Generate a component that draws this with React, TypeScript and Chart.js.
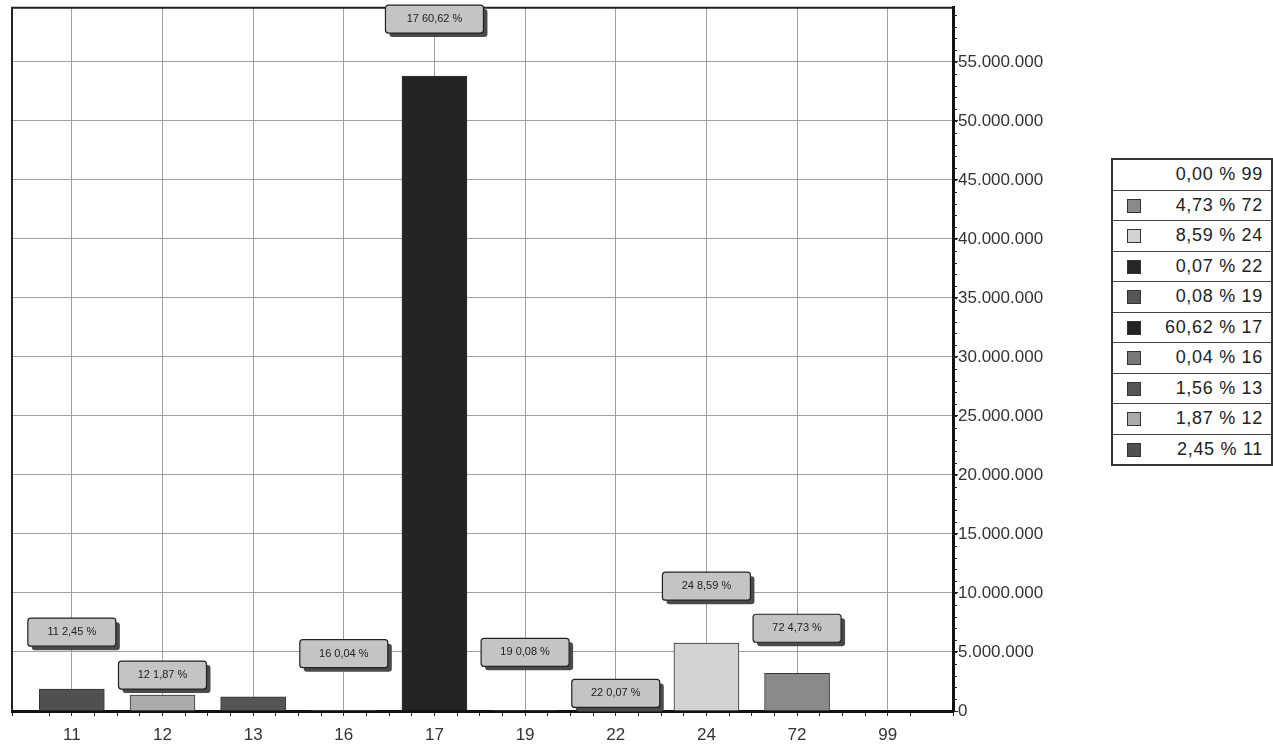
import { Chart, registerables, type Plugin } from "chart.js";
import * as React from "react";

Chart.register(...registerables);

const categories = ["11", "12", "13", "16", "17", "19", "22", "24", "72", "99"];
const values = [1850000, 1350000, 1200000, 30000, 53800000, 60000, 50000, 5750000, 3200000, 0];
const percents = ["2,45", "1,87", "1,56", "0,04", "60,62", "0,08", "0,07", "8,59", "4,73", "0,00"];
const barColors = ["#505050", "#ababab", "#555555", "#777777", "#232323", "#555555", "#262626", "#d3d3d3", "#8a8a8a", "#ffffff"];
const yTickValues = [0, 5000000, 10000000, 15000000, 20000000, 25000000, 30000000, 35000000, 40000000, 45000000, 50000000, 55000000];
const yMinorStep = 1000000;
const yMax = 59600000;

// Abstand Etikett über Balkenoberkante, null = kein Etikett
const labelLift: (number | null)[] = [57, 20, null, 57, 57, 58, 17, 57, 45, null];

function formatDots(v: number) {
  return String(Math.round(v)).replace(/\B(?=(\d{3})+(?!\d))/g, ".");
}

function isWhole(v: number | undefined) {
  if (v == null) return false;
  return Math.abs(v - Math.round(v)) < 1e-6;
}

const frameAndLabels: Plugin = {
  id: "frameAndLabels",
  beforeDatasetsDraw(chart) {
    const { ctx, chartArea } = chart;
    ctx.save();
    ctx.strokeStyle = "#222";
    ctx.lineWidth = 2;
    ctx.beginPath();
    ctx.moveTo(chartArea.left, chartArea.bottom);
    ctx.lineTo(chartArea.left, chartArea.top);
    ctx.lineTo(chartArea.right, chartArea.top);
    ctx.stroke();
    // kleine Zwischenstriche an der rechten Achse
    const y = chart.scales.y;
    ctx.lineWidth = 1;
    ctx.beginPath();
    for (let v = 0; v <= yMax; v += yMinorStep) {
      const py = Math.round(y.getPixelForValue(v)) + 0.5;
      ctx.moveTo(chartArea.right, py);
      ctx.lineTo(chartArea.right + 4, py);
    }
    ctx.stroke();
    ctx.restore();
  },
  afterDatasetsDraw(chart) {
    const { ctx } = chart;
    const meta = chart.getDatasetMeta(0);
    ctx.save();
    ctx.font = "11px 'Liberation Sans', Arial, sans-serif";
    ctx.textAlign = "center";
    ctx.textBaseline = "middle";
    meta.data.forEach((el, i) => {
      const lift = labelLift[i];
      if (lift == null) return;
      const { x, y } = el.getProps(["x", "y"], true) as { x: number; y: number };
      const w = i === 4 ? 98 : 88;
      const h = 28;
      const cy = y - lift;
      const left = x - w / 2;
      const top = cy - h / 2;
      ctx.fillStyle = "#4a4a4a";
      ctx.beginPath();
      ctx.roundRect(left + 4, top + 4, w, h, 3);
      ctx.fill();
      ctx.fillStyle = "#c4c4c4";
      ctx.strokeStyle = "#222";
      ctx.lineWidth = 1.2;
      ctx.beginPath();
      ctx.roundRect(left, top, w, h, 3);
      ctx.fill();
      ctx.stroke();
      ctx.fillStyle = "#222";
      ctx.fillText(`${categories[i]} ${percents[i]} %`, x, cy);
    });
    ctx.restore();
  },
};

function Legend() {
  const rows = categories.map((c, i) => ({ c, p: percents[i], color: barColors[i], i })).reverse();
  return (
    <div
      style={{
        position: "absolute",
        left: 1111,
        top: 158,
        width: 158,
        border: "2px solid #333",
        background: "#fff",
        fontFamily: "'Liberation Sans', Arial, sans-serif",
        fontSize: 18,
        letterSpacing: 0.7,
        color: "#222",
      }}
    >
      {rows.map((r, k) => (
        <div
          key={r.c}
          style={{
            height: 29.5,
            borderTop: k === 0 ? "none" : "1px solid #444",
            display: "flex",
            alignItems: "center",
            justifyContent: "flex-end",
            paddingRight: 8,
            position: "relative",
          }}
        >
          {r.i !== categories.length - 1 && (
            <span
              style={{
                position: "absolute",
                left: 14,
                top: 8,
                width: 12,
                height: 12,
                background: r.color,
                border: "1px solid #333",
              }}
            />
          )}
          {`${r.p} % ${r.c}`}
        </div>
      ))}
    </div>
  );
}

export default function App() {
  const chartRef = React.useRef<HTMLCanvasElement>(null);

  React.useEffect(() => {
    if (!chartRef.current) return;
    const tickFont = { family: "'Liberation Sans', Arial, sans-serif", size: 17, lineHeight: 0.9 };
    const chart = new Chart(chartRef.current, {
      type: "bar",
      data: {
        datasets: [
          {
            data: values.map((v, i) => ({ x: i, y: v })),
            backgroundColor: barColors,
            borderColor: "#333",
            borderWidth: 1,
            barThickness: 65,
          },
        ],
      },
      options: {
        animation: false,
        responsive: true,
        maintainAspectRatio: false,
        layout: { padding: { left: 9, top: 7, right: 220, bottom: 0 } },
        plugins: { legend: { display: false }, tooltip: { enabled: false } },
        scales: {
          x: {
            type: "linear",
            offset: false,
            min: -0.66,
            max: 9.72,
            afterFit: (scale) => {
              scale.height = 38;
            },
            border: { color: "#111", width: 3 },
            grid: {
              offset: false,
              color: (c: any) => (isWhole(c.tick?.value) ? "#a0a0a0" : "transparent"),
              tickColor: "#222",
              tickLength: 5,
              lineWidth: 1,
            },
            ticks: {
              stepSize: 0.25,
              autoSkip: false,
              maxRotation: 0,
              padding: 12,
              color: "#333",
              font: tickFont,
              callback: (v) => {
                const n = Number(v);
                const r = Math.round(n);
                return isWhole(n) && r >= 0 && r < categories.length ? categories[r] : "";
              },
            },
          },
          y: {
            type: "linear",
            position: "right",
            min: 0,
            max: yMax,
            afterFit: (scale) => {
              scale.width = 100;
            },
            afterBuildTicks: (scale) => {
              scale.ticks = yTickValues.map((value) => ({ value }));
            },
            border: { color: "#111", width: 3 },
            grid: {
              color: (c: any) => ((c.tick?.value ?? 0) > 0 ? "#a0a0a0" : "transparent"),
              tickColor: "#222",
              tickLength: 5,
              lineWidth: 1,
            },
            ticks: {
              autoSkip: false,
              padding: 0,
              color: "#333",
              font: tickFont,
              callback: (v) => formatDots(Number(v)),
            },
          },
        },
      },
      plugins: [frameAndLabels],
    });
    return () => chart.destroy();
  }, []);

  return (
    <div style={{ position: "absolute", left: 0, top: 0, width: 1273, height: 749, background: "#fff" }}>
      <canvas ref={chartRef} />
      <Legend />
    </div>
  );
}
